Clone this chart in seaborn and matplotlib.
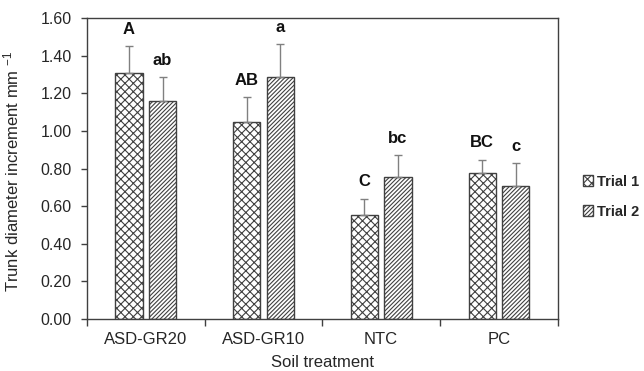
import matplotlib
matplotlib.use("Agg")
import matplotlib.pyplot as plt
from matplotlib.container import BarContainer
from matplotlib.patches import Patch
import seaborn as sns
import pandas as pd
import numpy as np

categories = ["ASD-GR20", "ASD-GR10", "NTC", "PC"]
trials = ["Trial 1", "Trial 2"]
trial1_mean = [1.31, 1.05, 0.555, 0.775]
trial2_mean = [1.16, 1.285, 0.755, 0.705]
trial1_err = [0.14, 0.13, 0.085, 0.072]
trial2_err = [0.127, 0.177, 0.117, 0.123]
trial1_letters = ["A", "AB", "C", "BC"]
trial2_letters = ["ab", "a", "bc", "c"]
yticks = [0.0, 0.2, 0.4, 0.6, 0.8, 1.0, 1.2, 1.4, 1.6]

df = pd.DataFrame({
    "treatment": categories * 2,
    "trial": [trials[0]] * 4 + [trials[1]] * 4,
    "value": trial1_mean + trial2_mean,
})

sns.set_style("white")
plt.rcParams["font.family"] = ["Liberation Sans", "DejaVu Sans"]
plt.rcParams["mathtext.fontset"] = "custom"
plt.rcParams["mathtext.rm"] = "Liberation Sans"
plt.rcParams["mathtext.it"] = "Liberation Sans"
plt.rcParams["hatch.linewidth"] = 0.8

fig = plt.figure(figsize=(6.44, 3.71), dpi=100)
ax = fig.add_axes([0.135, 0.140, 0.731, 0.811])

sns.barplot(data=df, x="treatment", y="value", hue="trial", order=categories,
            hue_order=trials, errorbar=None, width=0.57, gap=0.19,
            palette=["white", "white"], edgecolor="#404040", linewidth=1.0,
            legend=False, ax=ax)

hatches = {0: "xxxx", 1: "////////"}
errs = [trial1_err, trial2_err]
means = [trial1_mean, trial2_mean]
letters = [trial1_letters, trial2_letters]
bar_containers = [c for c in ax.containers if isinstance(c, BarContainer)]
for i, cont in enumerate(bar_containers):
    xs = []
    for bar in cont.patches:
        bar.set_hatch(hatches[i])
        bar.set_edgecolor("#404040")
        xs.append(bar.get_x() + bar.get_width() / 2)
    xs = np.array(xs)
    m = np.array(means[i]); e = np.array(errs[i])
    ax.errorbar(xs, m, yerr=[np.zeros_like(e), e], fmt="none",
                ecolor="#808080", elinewidth=1.0, capsize=3, capthick=1.0, zorder=1)
    for x, y, ee, lab in zip(xs, m, e, letters[i]):
        ax.text(x, y + ee + 0.05, lab, ha="center", va="bottom",
                fontsize=12, fontweight="bold", color="#111111")

ax.set_ylim(0, 1.6)
ax.set_xlim(-0.5, 3.5)
ax.set_yticks(yticks)
ax.set_yticklabels([f"{t:.2f}" for t in yticks], fontsize=11.5)
ax.set_xticks(np.arange(-0.5, 4.0, 1.0))
ax.set_xticklabels([])
ax.set_xticks(np.arange(len(categories)), minor=True)
ax.set_xticklabels(categories, minor=True, fontsize=12)
ax.tick_params(axis="x", which="minor", length=0, pad=9)
ax.tick_params(axis="x", which="major", length=5, width=1, direction="out", bottom=True, color="#404040")
ax.tick_params(axis="y", length=4, width=1, direction="out", left=True, color="#404040", pad=7)
for s in ax.spines.values():
    s.set_color("#404040")
    s.set_linewidth(1.0)
    s.set_visible(True)

ax.set_xlabel("Soil treatment", fontsize=12, labelpad=6)
ax.set_ylabel(r"Trunk diameter increment mm $^{-1}$", fontsize=12)
ax.yaxis.set_label_coords(-0.14, 0.49)

handles = [Patch(facecolor="white", edgecolor="#404040", hatch=hatches[i], label=trials[i])
           for i in range(2)]
fig.legend(handles=handles, loc="center left", bbox_to_anchor=(0.905, 0.47),
           frameon=False, handlelength=0.7, handleheight=0.7, handletextpad=0.25,
           labelspacing=1.1, borderpad=0, prop={"weight": "bold", "size": 10.5},
           borderaxespad=0)

fig.savefig("out.png", dpi=100)
